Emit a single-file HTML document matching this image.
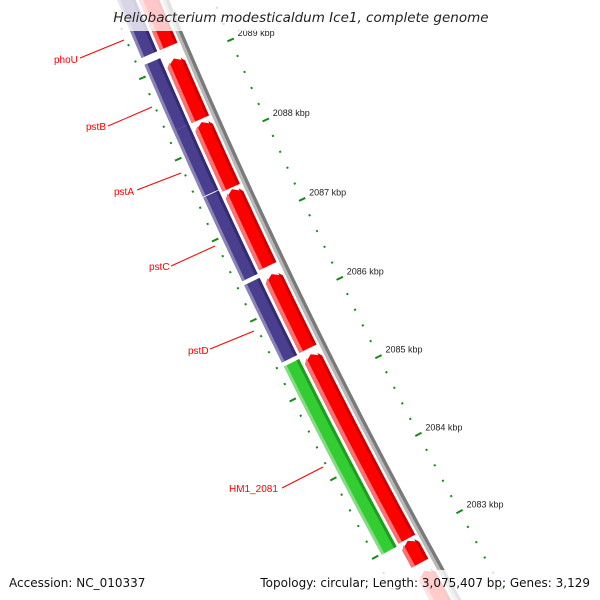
<!DOCTYPE html>
<html><head><meta charset="utf-8"><style>
html,body{margin:0;background:#fff;overflow:hidden;width:600px;height:600px}
svg{display:block;overflow:hidden}
text{font-family:"Liberation Sans",sans-serif}
.dv{font-family:"DejaVu Sans","Liberation Sans",sans-serif}
</style></head><body>
<svg id="map" width="600" height="600" viewBox="0 0 600 600">
<g id="rings"></g>
<g id="genes"></g>
<g id="labels">
<line x1="80" y1="58" x2="124" y2="40" stroke="#f00" stroke-width="1"/>
<text x="54" y="63" font-size="10" fill="#f00">phoU</text>
<line x1="108" y1="126" x2="152" y2="107" stroke="#f00" stroke-width="1"/>
<text x="86" y="130" font-size="10" fill="#f00">pstB</text>
<line x1="137" y1="190" x2="181" y2="173" stroke="#f00" stroke-width="1"/>
<text x="114" y="195" font-size="10" fill="#f00">pstA</text>
<line x1="171" y1="266" x2="215" y2="246" stroke="#f00" stroke-width="1"/>
<text x="149" y="270" font-size="10" fill="#f00">pstC</text>
<line x1="210" y1="349" x2="254" y2="331" stroke="#f00" stroke-width="1"/>
<text x="188" y="354" font-size="10" fill="#f00">pstD</text>
<line x1="282" y1="488" x2="323" y2="467" stroke="#f00" stroke-width="1"/>
<text x="229" y="492" font-size="10" fill="#f00">HM1_2081</text>
</g>
<rect x="0" y="0" width="600" height="31" fill="#fff" fill-opacity="0.78"/>
<text class="dv" x="301" y="22" font-size="13.5" font-style="italic" text-anchor="middle" fill="#222">Heliobacterium modesticaldum Ice1, complete genome</text>
<rect x="0" y="570" width="600" height="30" fill="#fff" fill-opacity="0.8"/>
<text class="dv" x="9" y="587" font-size="12" fill="#111">Accession: NC_010337</text>
<text class="dv" x="590" y="587" font-size="12" fill="#111" text-anchor="end">Topology: circular; Length: 3,075,407 bp; Genes: 3,129</text>
</svg>
<script>
// data (kbp)
const fwdStarts = [2089.21, 2088.31, 2087.46, 2086.48, 2085.44, 2083.01, 2082.70, 2081.9];
const fwdEnds   = [2090.2, 2089.06, 2088.275, 2087.44, 2086.38, 2085.37, 2082.99, 2082.6];
const revStarts = [2089.21, 2088.31, 2087.50, 2086.45, 2085.43, 2082.99];
const revEnds   = [2090.2, 2089.125, 2088.31, 2087.49, 2086.40, 2085.38];
const revColors = ['#4a3f8e','#4a3f8e','#4a3f8e','#4a3f8e','#4a3f8e','#33cc33'];
const tickLabels = [2089, 2088, 2087, 2086, 2085, 2084, 2083];

const NS='http://www.w3.org/2000/svg';
const CX=5518, CY=-2235;
function ang(k){return (156.72+0.87*(k-2089))*Math.PI/180;}
function pt(k,r){const a=ang(k);return [CX+r*Math.cos(a), CY+r*Math.sin(a)];}
function arcPts(k1,k2,r){const out=[];const n=Math.max(2,Math.ceil(Math.abs(k2-k1)*20));for(let i=0;i<=n;i++){out.push(pt(k1+(k2-k1)*i/n,r));}return out;}
function poly(parent,pts,fill,name){
  const p=document.createElementNS(NS,'polygon');
  p.setAttribute('points',pts.map(q=>q[0].toFixed(2)+','+q[1].toFixed(2)).join(' '));
  p.setAttribute('fill',fill);
  
  
  parent.appendChild(p);return p;
}
const rings=document.getElementById('rings');
const genes=document.getElementById('genes');

// backbone
poly(rings, arcPts(2081.7,2090.5,5797).concat(arcPts(2090.5,2081.7,5800.5)), '#7a7a7a', 'backbone-dark');
poly(rings, arcPts(2081.7,2090.5,5800.5).concat(arcPts(2090.5,2081.7,5803.5)), '#b8b8b8', 'backbone-light');

// ticks
function ticks(r){
  for(let i=0;i<=45;i++){
    const k=2081.4+i*0.2;
    const kr=Math.round(k*10)/10;
    const major=Math.abs(kr-Math.round(kr))<0.01;
    const a=pt(kr,r-(major?3.5:1)), b=pt(kr,r+(major?3.5:1));
    const l=document.createElementNS(NS,'line');
    l.setAttribute('x1',a[0]);l.setAttribute('y1',a[1]);l.setAttribute('x2',b[0]);l.setAttribute('y2',b[1]);
    l.setAttribute('stroke','#138a13');l.setAttribute('stroke-width',2);
    
    
    rings.appendChild(l);
  }
}
ticks(5756);
ticks(5852);
tickLabels.forEach(k=>{
  const p=pt(k,5756);
  const t=document.createElementNS(NS,'text');
  t.setAttribute('x',p[0]+7);t.setAttribute('y',p[1]-4);
  t.setAttribute('font-size','9');t.setAttribute('fill','#222');
  t.textContent=k+' kbp';
  
  
  rings.appendChild(t);
});

// forward genes (red, arrowhead at high-kbp end)
const rIn=5806, rOut=5825;
fwdStarts.forEach((s,i)=>{
  const e=fwdEnds[i];
  const g=document.createElementNS(NS,'g');
  
  
  genes.appendChild(g);
  const head=0.07, eb=e-head;
  const tip=pt(e,(rIn+rOut)/2);
  poly(g, arcPts(s,eb,rIn).concat([tip]).concat(arcPts(eb,s,rOut)), '#ff0000', 'gene-body');
  poly(g, arcPts(s,eb,rOut-4).concat([pt(e-0.02,rOut-4)]).concat(arcPts(eb,s,rOut)), '#ff7070', 'gene-highlight');
  poly(g, arcPts(s,eb,rIn).concat([pt(e-0.02,rIn+3)]).concat(arcPts(eb,s,rIn+3)), '#c80000', 'gene-shadow');
});
// reverse genes
const qIn=5828, qOut=5845;
revStarts.forEach((s,i)=>{
  const e=revEnds[i];
  const g=document.createElementNS(NS,'g');
  
  
  genes.appendChild(g);
  const c=revColors[i];
  const light=c==='#33cc33'?'#7fe07f':'#8a82b8';
  const dark=c==='#33cc33'?'#239a23':'#352c70';
  poly(g, arcPts(s,e,qIn).concat(arcPts(e,s,qOut)), c, 'gene-body');
  poly(g, arcPts(s,e,qOut-3).concat(arcPts(e,s,qOut)), light, 'gene-highlight');
  poly(g, arcPts(s,e,qIn).concat(arcPts(e,s,qIn+3)), dark, 'gene-shadow');
});
</script>
</body></html>
